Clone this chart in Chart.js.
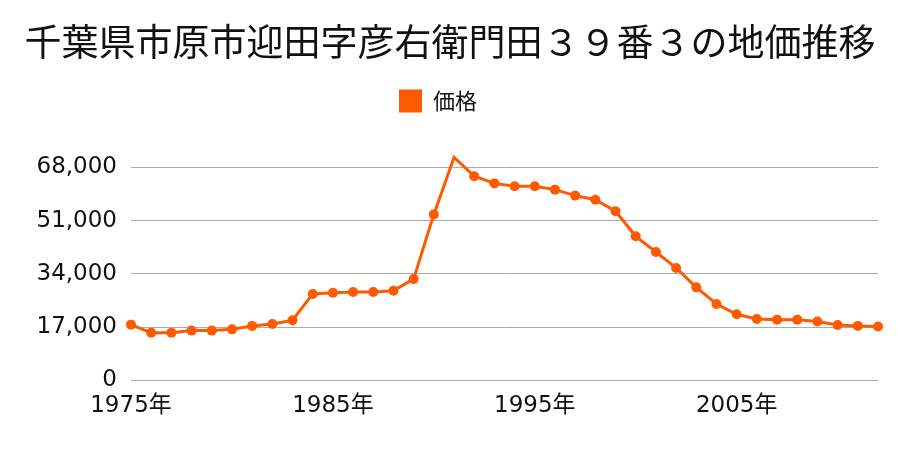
<!DOCTYPE html>
<html>
<head>
<meta charset="utf-8">
<script src="https://cdn.jsdelivr.net/npm/chart.js@4"></script>
<style>
  html, body { margin: 0; padding: 0; background: #fff; }
  #wrap { width: 900px; height: 450px; }
</style>
</head>
<body>
<div id="wrap"><canvas id="chart" width="900" height="450"></canvas></div>
<script>
const chartTitle = "千葉県市原市迎田字彦右衛門田３９番３の地価推移";
const seriesLabel = "価格";
const years = [];
for (let y = 1975; y <= 2012; y++) years.push(y);
const prices = [
  17800, 15200, 15200, 15900, 15900, 16300, 17400, 18000, 19200, 27600,
  28000, 28200, 28200, 28600, 32400, 53000, 71200, 65200, 62900, 62000,
  62000, 60900, 59000, 57700, 54000, 46000, 41000, 35900, 29700, 24400,
  21100, 19600, 19400, 19400, 18800, 17700, 17400, 17200
];
const yTicks = [0, 17000, 34000, 51000, 68000];
const xTicks = [1975, 1985, 1995, 2005];

const orange = "#ff5a00";
const font = "'Noto Sans CJK JP', 'Noto Sans', sans-serif";
const numFont = "'DejaVu Sans', 'Noto Sans CJK JP', sans-serif";

// extra room under the legend, and legend a bit left of centre like the original
const legendTweak = {
  id: "legendTweak",
  beforeInit(chart) {
    const fit = chart.legend.fit;
    chart.legend.fit = function () {
      fit.bind(chart.legend)();
      this.height += 45;
    };
  },
  afterLayout(chart) {
    chart.legend.left -= 12;
    chart.legend.right -= 12;
  }
};

new Chart(document.getElementById("chart"), {
  type: "line",
  data: {
    datasets: [{
      label: seriesLabel,
      data: years.map((y, i) => ({ x: y, y: prices[i] })),
      borderColor: orange,
      backgroundColor: orange,
      borderWidth: 3,
      pointRadius: 5,
      pointHoverRadius: 5,
      pointBackgroundColor: orange,
      pointBorderWidth: 0,
      tension: 0,
      clip: false
    }]
  },
  options: {
    responsive: false,
    animation: false,
    layout: { padding: { left: 22, right: 22, top: 8, bottom: 26 } },
    plugins: {
      title: {
        display: true,
        text: chartTitle,
        color: "#111",
        font: { family: font, size: 37, weight: "normal" },
        padding: { top: 12, bottom: 13 }
      },
      legend: {
        display: true,
        labels: {
          color: "#111",
          font: { family: font, size: 22 },
          boxWidth: 23,
          boxHeight: 23,
          padding: 12,
          generateLabels: chart => chart.data.datasets.map((ds, i) => ({
            text: ds.label,
            fillStyle: orange,
            strokeStyle: orange,
            lineWidth: 0,
            fontColor: "#111",
            datasetIndex: i
          }))
        }
      },
      tooltip: { enabled: false }
    },
    scales: {
      x: {
        type: "linear",
        min: 1975,
        max: 2012,
        afterBuildTicks: s => { s.ticks = xTicks.map(v => ({ value: v })); },
        ticks: {
          color: "#111",
          font: { family: numFont, size: 23 },
          padding: 4,
          maxRotation: 0,
          callback: v => v + "年"
        },
        grid: { display: false },
        border: { display: false }
      },
      y: {
        min: 0,
        max: 68000,
        afterBuildTicks: s => { s.ticks = yTicks.map(v => ({ value: v })); },
        afterFit: s => { s.width = 109; },
        ticks: {
          color: "#111",
          font: { family: numFont, size: 23 },
          padding: 14,
          callback: v => v.toLocaleString("en-US")
        },
        grid: { color: "#aaaaaa", lineWidth: 1, drawTicks: false },
        border: { display: false }
      }
    }
  },
  plugins: [legendTweak]
});
</script>
</body>
</html>
